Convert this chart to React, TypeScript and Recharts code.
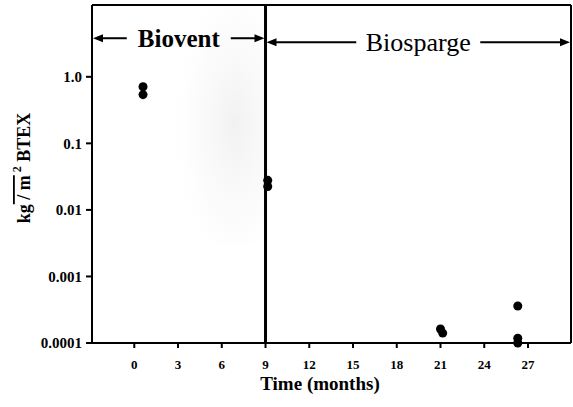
import { ScatterChart, Scatter, XAxis, YAxis, ZAxis, ReferenceLine, ReferenceArea, Label } from 'recharts';

// readings of BTEX mass per area against time
const months = [0.6, 0.6, 9.15, 9.15, 21.0, 21.15, 26.3, 26.3, 26.3];
const btex = [0.71, 0.54, 0.0278, 0.0225, 0.000162, 0.000141, 0.00036, 0.000118, 0.0001];

const xTicks = [0, 3, 6, 9, 12, 15, 18, 21, 24, 27];
const yTicks = [0.0001, 0.001, 0.01, 0.1, 1];
const yTickLabels = ['0.0001', '0.001', '0.01', '0.1', '1.0'];

const X_MIN = -2.9;
const X_MAX = 29.95;
const Y_MIN = 0.0001;
const Y_MAX = 12;
const SWITCH_MONTH = 9;

const points = months.map((m, i) => ({ month: m, btex: btex[i] }));

const serif = '"Liberation Serif", "DejaVu Serif", serif';

function arrowShape(label: string, fontSize: number, weight: string, halfGap: number) {
  return (props: any) => {
    const { x1, y1, x2 } = props;
    const y = y1;
    const mid = (x1 + x2) / 2;
    const head = 10;
    return (
      <g>
        <line x1={x1 + head} y1={y} x2={mid - halfGap} y2={y} stroke="#000" strokeWidth={2} />
        <line x1={mid + halfGap} y1={y} x2={x2 - head} y2={y} stroke="#000" strokeWidth={2} />
        <polygon points={`${x1 + 1},${y} ${x1 + 1 + head},${y - 4} ${x1 + 1 + head},${y + 4}`} fill="#000" />
        <polygon points={`${x2 - 1},${y} ${x2 - 1 - head},${y - 4} ${x2 - 1 - head},${y + 4}`} fill="#000" />
        <text
          x={mid}
          y={y}
          dy="0.35em"
          textAnchor="middle"
          fontFamily={serif}
          fontSize={fontSize}
          fontWeight={weight}
          fill="#000"
        >
          {label}
        </text>
      </g>
    );
  };
}

function Shade(props: any) {
  const { x, y, width, height } = props;
  return (
    <g>
      <defs>
        <radialGradient id="stipple" cx="0.7" cy="0.5" r="0.65">
          <stop offset="0%" stopColor="#aaaaaa" stopOpacity={0.16} />
          <stop offset="60%" stopColor="#cccccc" stopOpacity={0.07} />
          <stop offset="100%" stopColor="#ffffff" stopOpacity={0} />
        </radialGradient>
      </defs>
      <rect x={x} y={y} width={width} height={height} fill="url(#stipple)" />
    </g>
  );
}

function YLabel() {
  const cx = 24;
  const cy = 168;
  return (
    <text
      x={cx}
      y={cy}
      transform={`rotate(-90 ${cx} ${cy})`}
      textAnchor="middle"
      dominantBaseline="central"
      fontFamily={serif}
      fontSize={18}
      fontWeight="bold"
      fill="#000"
    >
      kg
      <tspan style={{ textDecoration: 'overline' }}>{' / m'}</tspan>
      <tspan dy={-7} fontSize={12}>{' 2'}</tspan>
      <tspan dy={7}>{'  BTEX'}</tspan>
    </text>
  );
}

function XLabel() {
  return (
    <text
      x={320}
      y={390}
      textAnchor="middle"
      fontFamily={serif}
      fontSize={19}
      fontWeight="bold"
      fill="#000"
    >
      Time (months)
    </text>
  );
}

export default function App() {
  return (
    <div style={{ position: 'absolute', left: 0, top: 0, background: '#fff' }}>
      <ScatterChart width={573} height={407} margin={{ top: 5, right: 2, bottom: 0, left: 0 }}>
        <XAxis
          type="number"
          dataKey="month"
          domain={[X_MIN, X_MAX]}
          ticks={xTicks}
          height={64}
          stroke="#000"
          axisLine={{ stroke: '#000', strokeWidth: 2 }}
          tickLine={{ stroke: '#000', strokeWidth: 2 }}
          tickSize={5}
          tickMargin={12}
          tick={{ fill: '#000', fontSize: 13, fontWeight: 'bold', fontFamily: serif }}
        >
          <Label content={XLabel} />
        </XAxis>
        <YAxis
          type="number"
          dataKey="btex"
          scale="log"
          domain={[Y_MIN, Y_MAX]}
          ticks={yTicks}
          width={92}
          axisLine={{ stroke: '#000', strokeWidth: 2 }}
          tickLine={{ stroke: '#000', strokeWidth: 2 }}
          tickSize={6}
          tickMargin={4}
          tickFormatter={(v: number) => yTickLabels[yTicks.indexOf(v)] ?? String(v)}
          tick={{ fill: '#000', fontSize: 15, fontWeight: 'bold', fontFamily: serif }}
        >
          <Label content={YLabel} />
        </YAxis>
        <ZAxis range={[80, 80]} />
        <ReferenceArea x1={2} x2={SWITCH_MONTH} y1={0.003} y2={Y_MAX} shape={Shade} />
        <ReferenceLine y={Y_MAX} stroke="#000" strokeWidth={2} />
        <ReferenceLine x={X_MAX} stroke="#000" strokeWidth={2} />
        <ReferenceLine x={SWITCH_MONTH} stroke="#000" strokeWidth={3} />
        <ReferenceLine
          segment={[{ x: X_MIN, y: 3.8 }, { x: SWITCH_MONTH, y: 3.8 }]}
          shape={arrowShape('Biovent', 25, 'bold', 52)}
        />
        <ReferenceLine
          segment={[{ x: SWITCH_MONTH, y: 3.3 }, { x: X_MAX, y: 3.3 }]}
          shape={arrowShape('Biosparge', 26, 'normal', 62)}
        />
        <Scatter data={points} fill="#000" shape="circle" isAnimationActive={false} />
      </ScatterChart>
    </div>
  );
}
